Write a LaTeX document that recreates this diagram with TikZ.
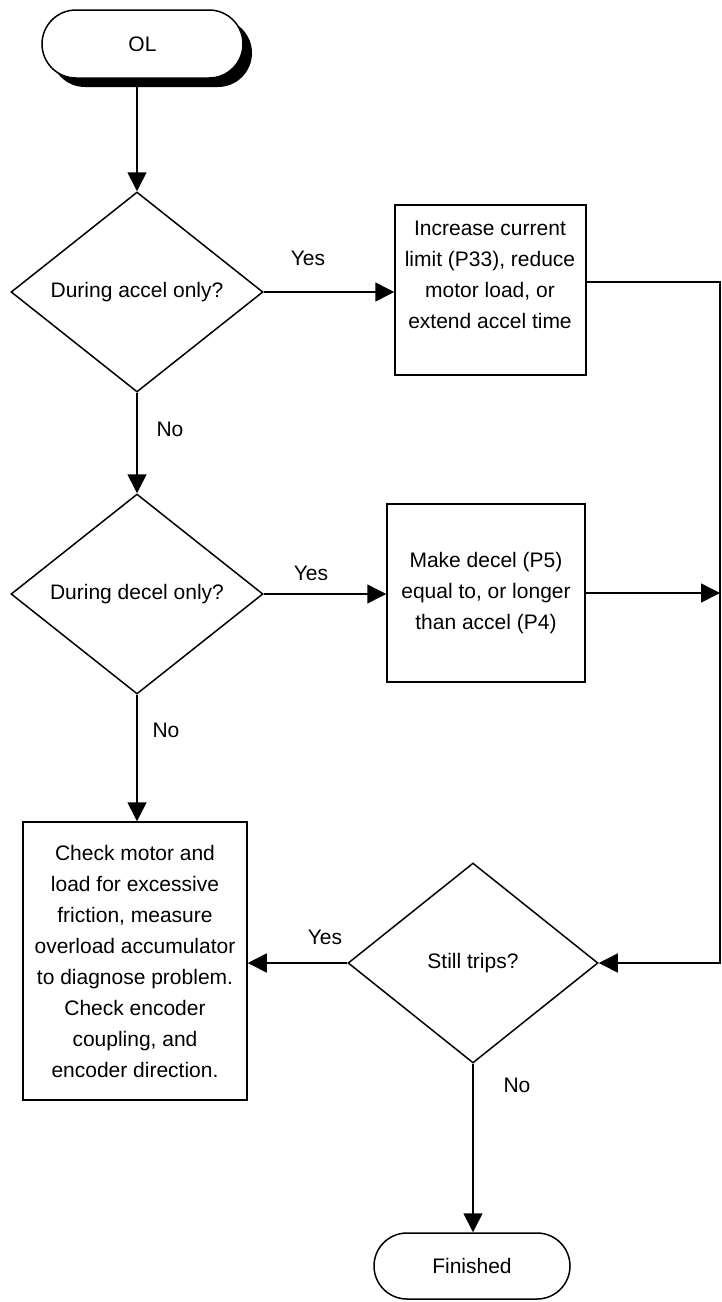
\documentclass[tikz,border=0pt]{standalone}
\usepackage{fontspec}
\setmainfont{Liberation Sans}
\usetikzlibrary{arrows.meta,shapes.geometric,shadows}
\begin{document}
\begin{tikzpicture}[x=1pt,y=-1pt,
  font=\fontsize{21}{31}\selectfont,
  line width=1.5pt,
  arr/.style={-{Triangle[length=19pt,width=19pt]}},
  terminal/.style={draw,fill=white,rectangle,rounded corners=#1,inner sep=0pt},
  decision/.style={draw,diamond,inner sep=0pt,minimum width=252pt,minimum height=200pt},
  process/.style={draw,rectangle,align=center,inner sep=0pt},
  lbl/.style={inner sep=0pt}]
\useasboundingbox (0,0) rectangle (722,1302);

% start / end terminals
\node[terminal=34pt,minimum width=201pt,minimum height=68pt,
      drop shadow={shadow xshift=9pt,shadow yshift=-9pt,fill=black,opacity=1}]
      (OL) at (142.5,44) {OL};
\node[terminal=33pt,minimum width=196pt,minimum height=66pt] (fin) at (472,1266) {Finished};

% decisions
\node[decision] (d1) at (137,292) {During accel only?};
\node[decision] (d2) at (137,594) {During decel only?};
\node[decision,minimum width=250pt] (d3) at (473,963) {Still trips?};

% actions
\node[process,minimum width=191pt,minimum height=170pt] (b1) at (490.5,290) {};
\node[lbl,align=center] (b1t) at (490,275) {Increase current\\limit (P33), reduce\\motor load, or\\extend accel time};
\node[process,minimum width=198pt,minimum height=178pt] (b2) at (486,593)
  {Make decel (P5)\\equal to, or longer\\than accel (P4)};
\node[process,minimum width=224pt,minimum height=278pt] (b3) at (135,961)
  {Check motor and\\load for excessive\\friction, measure\\overload accumulator\\to diagnose problem.\\Check encoder\\coupling, and\\encoder direction.};

% return bus on the right
\coordinate (bus) at (720,282);

% connectors
\draw[arr] (d1.north |- OL.south) -- (d1.north);
\draw[arr] (d1.east) -- (d1.east -| b1.west);
\draw[arr] (d1.south) -- (d2.north);
\draw[arr] (d2.east) -- (d2.east -| b2.west);
\draw[arr] (d2.south) -- (d2.south |- b3.north);
\draw[arr] (b1.east |- bus) -- (bus) -- (bus |- d3.east) -- (d3.east);
\draw[arr] (b2.east) -- (b2.east -| bus);
\draw[arr] (d3.west) -- (d3.west -| b3.east);
\draw[arr] (d3.south) -- (d3.south |- fin.north);

% branch labels
\node[lbl] (y1) at (308,258) {Yes};
\node[lbl] (y2) at (311,573) {Yes};
\node[lbl] (n1) at (170,429) {No};
\node[lbl] (n2) at (166,730) {No};
\node[lbl] (y3) at (325,937) {Yes};
\node[lbl] (n3) at (517,1085) {No};
\end{tikzpicture}
\end{document}
